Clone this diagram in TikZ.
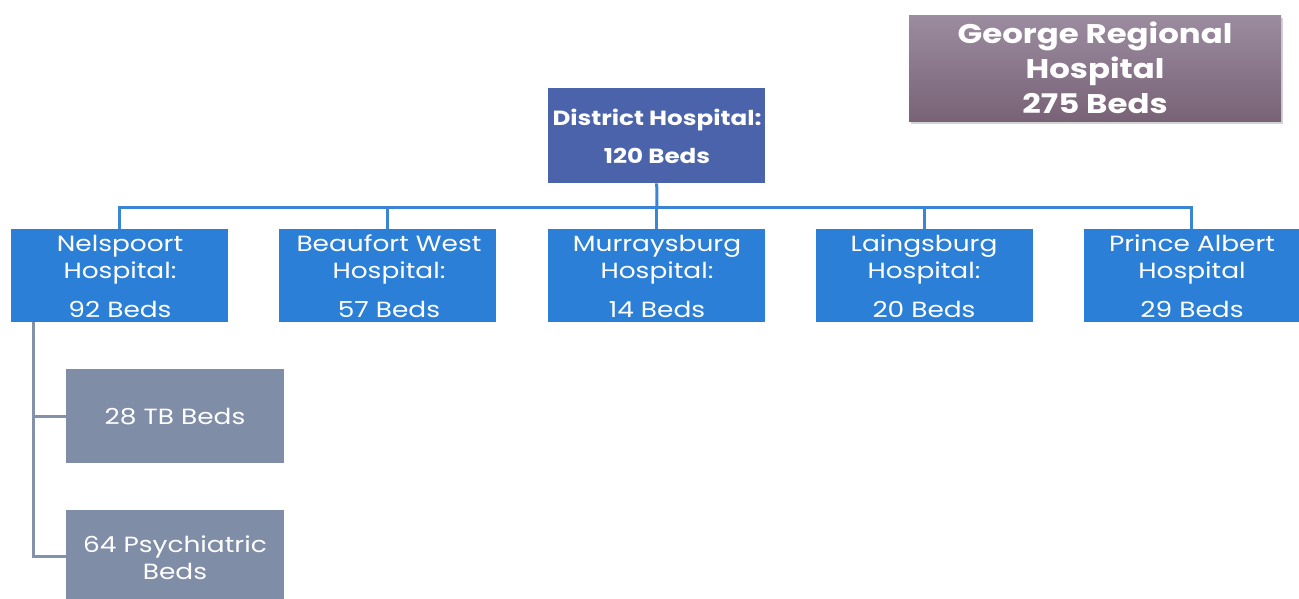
\documentclass[tikz,border=0pt]{standalone}
\usepackage{fontspec}
\setmainfont{Poppins}[FakeStretch=1.2]
\usetikzlibrary{shadows}
\definecolor{topblue}{HTML}{4A63AA}
\definecolor{midblue}{HTML}{2B7FD6}
\definecolor{linkblue}{HTML}{3A86D4}
\definecolor{subgrey}{HTML}{7F8DA7}
\definecolor{bracketgrey}{HTML}{8391AB}
\definecolor{purpletop}{HTML}{9C8CA0}
\definecolor{purplebot}{HTML}{786276}
\tikzset{
  box/.style={draw=none, anchor=north west, inner sep=0pt, text=white, align=center},
  lvl/.style={box, fill=midblue, minimum width=217pt, minimum height=93pt},
  sub/.style={box, fill=subgrey, minimum width=218pt, minimum height=94pt},
  link/.style={draw=linkblue, line width=3pt},
  blink/.style={draw=bracketgrey, line width=3pt},
  lbl/.style={text=white, font=\fontsize{22}{24}\selectfont, inner sep=0pt, anchor=base, yshift=-8pt}
}
\begin{document}
\begin{tikzpicture}[x=1pt,y=-1pt]
\useasboundingbox (0,0) rectangle (1299,598);
% George box
\node[box, minimum width=372pt, minimum height=106pt, top color=purpletop, bottom color=purplebot,
  drop shadow={shadow xshift=2pt, shadow yshift=-3pt, opacity=0.35}] (george) at (909,15) {};
\node[text=white, font=\fontsize{27}{35}\selectfont\bfseries, align=center, inner sep=0pt] (georgetxt) at (1095,68) {George Regional\\Hospital\\275 Beds};
% District
\node[box, fill=topblue, minimum width=217pt, minimum height=95pt] (district) at (548,88) {};
\node[text=white, font=\fontsize{20.5}{38}\selectfont\bfseries, align=center, inner sep=0pt] (districttxt) at (657,136) {District Hospital:\\120 Beds};
% Level 2
\node[lvl] (nel) at (11,229) {};
\node[lvl] (bea) at (279,229) {};
\node[lvl] (mur) at (548,229) {};
\node[lvl] (lai) at (816,229) {};
\node[lvl, minimum width=215pt] (pri) at (1084,229) {};
\node[lbl] (nelA) at (120,243) {Nelspoort};
\node[lbl] (nelB) at (120,270) {Hospital:};
\node[lbl] (nelC) at (120,309) {92 Beds};
\node[lbl] (beaA) at (389,243) {Beaufort West};
\node[lbl] (beaB) at (389,270) {Hospital:};
\node[lbl] (beaC) at (389,309) {57 Beds};
\node[lbl] (murA) at (657,243) {Murraysburg};
\node[lbl] (murB) at (657,270) {Hospital:};
\node[lbl] (murC) at (657,309) {14 Beds};
\node[lbl] (laiA) at (924,243) {Laingsburg};
\node[lbl] (laiB) at (924,270) {Hospital:};
\node[lbl] (laiC) at (924,309) {20 Beds};
\node[lbl] (priA) at (1192,243) {Prince Albert};
\node[lbl] (priB) at (1192,270) {Hospital};
\node[lbl] (priC) at (1192,309) {29 Beds};
% connectors
\coordinate (bus) at (657,207);
\draw[link] (district.south) -- (bus);
\draw[link] (nel.north) |- (bus) -| (pri.north);
\draw[link] (bea.north) -- (bea.north |- bus);
\draw[link] (mur.north) -- (mur.north |- bus);
\draw[link] (lai.north) -- (lai.north |- bus);
% sub boxes
\node[sub] (tb) at (66,369) {};
\node[sub, minimum height=95pt] (psy) at (66,510) {};
\node[lbl] (tbtxt) at (175,416) {28 TB Beds};
\node[lbl] (psyA) at (175,544) {64 Psychiatric};
\node[lbl] (psyB) at (175,571) {Beds};
\coordinate (brtop) at (33,322);
\draw[blink] (brtop) |- (tb.west);
\draw[blink] (brtop) |- (psy.west |- 0,556);
\end{tikzpicture}
\end{document}
